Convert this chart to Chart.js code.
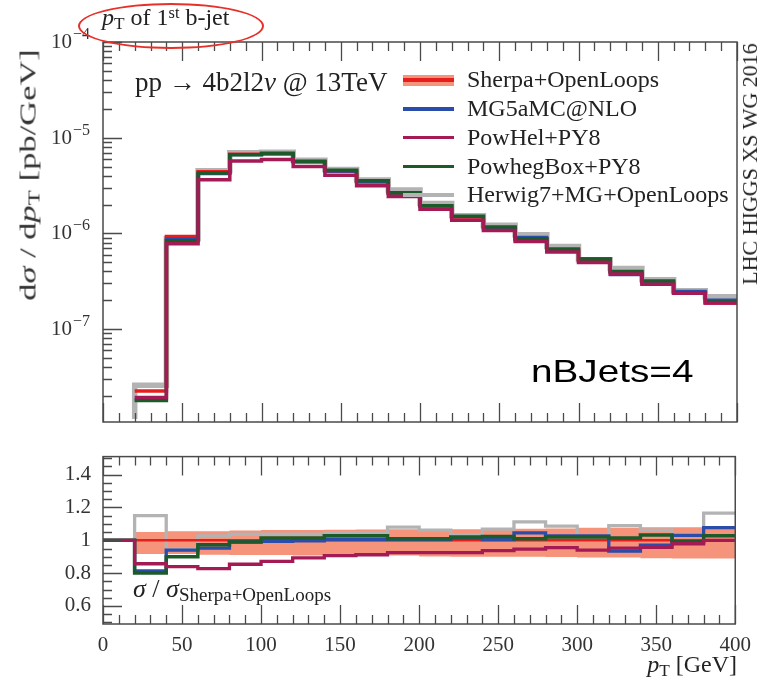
<!DOCTYPE html>
<html>
<head>
<meta charset="utf-8">
<script src="https://cdn.jsdelivr.net/npm/chart.js@4.4.1/dist/chart.umd.min.js"></script>
<style>
  body { margin: 0; background: #fff; width: 760px; height: 682px; position: relative; overflow: hidden;
         font-family: "Liberation Serif", serif; color: #222; }
  canvas { position: absolute; left: 0; }
  .t { position: absolute; white-space: nowrap; line-height: 1; }
  .t sub { font-size: 0.72em; vertical-align: -0.22em; line-height: 0; }
  .t sup { font-size: 0.68em; vertical-align: 0.45em; line-height: 0; }
  .smp { position: absolute; }
</style>
</head>
<body>
<canvas id="main" width="760" height="432" style="top:0"></canvas>
<canvas id="ratio" width="760" height="250" style="top:432px"></canvas>

<div class="t" style="left:102px;top:5px;font-size:24px"><i>p</i><sub>T</sub> of 1<sup>st</sup> b-jet</div>
<div style="position:absolute;left:78px;top:3px;width:182px;height:42px;border:2px solid #e8302a;border-radius:50%"></div>
<div class="t" style="left:135px;top:69px;font-size:27px">pp → 4b2l2<i>ν</i> @ 13TeV</div>
<div class="t" style="left:28px;top:175px;font-size:23px;color:#333;transform:translate(-50%,-50%) rotate(-90deg) scaleX(1.5)">d<i>σ</i> / d<i>p</i><sub>T</sub> [pb/GeV]</div>
<div class="t" style="left:750px;top:164px;font-size:22px;transform:translate(-50%,-50%) rotate(-90deg)">LHC HIGGS XS WG 2016</div>
<div class="t" style="left:531px;top:355px;font-size:32px;font-family:'Liberation Sans',sans-serif;color:#000;transform:scaleX(1.21);transform-origin:left top">nBJets=4</div>
<div class="t" style="left:133px;top:576px;font-size:26px"><i>σ</i> / <i>σ</i><sub style="font-size:19px">Sherpa+OpenLoops</sub></div>
<div class="t" style="right:23px;top:652px;font-size:24px"><i>p</i><sub>T</sub> [GeV]</div>
<div id="legend"></div>

<script>
// bin edges of the pT histogram (GeV); first bin 0-20 is empty
const binEdges = [0, 20, 40, 60, 80, 100, 120, 140, 160, 180, 200, 220, 240, 260, 280, 300, 320, 340, 360, 380, 400];

const seriesNames = ['Sherpa+OpenLoops', 'MG5aMC@NLO', 'PowHel+PY8', 'PowhegBox+PY8', 'Herwig7+MG+OpenLoops'];
const seriesColors = ['#e61e1e', '#2a4caa', '#a31a55', '#1c5a2a', '#b3b3b3'];

// dsigma/dpT [pb/GeV], one value per bin
const sherpaXS = [null, 2.25e-8, 9.3e-7, 4.4e-6, 6.7e-6, 6.8e-6, 5.6e-6, 4.45e-6, 3.45e-6, 2.63e-6, 1.93e-6, 1.48e-6, 1.14e-6, 8.7e-7, 6.7e-7, 5.3e-7, 3.95e-7, 3.08e-7, 2.42e-7, 1.87e-7];
const mg5XS    = [null, 1.83e-8, 8.74e-7, 4.19e-6, 6.63e-6, 6.75e-6, 5.58e-6, 4.47e-6, 3.47e-6, 2.64e-6, 1.94e-6, 1.50e-6, 1.15e-6, 9.09e-7, 6.88e-7, 5.44e-7, 3.69e-7, 2.99e-7, 2.49e-7, 2.01e-7];
const powhelXS = [null, 1.93e-8, 7.81e-7, 3.64e-6, 5.72e-6, 5.92e-6, 5.00e-6, 4.04e-6, 3.15e-6, 2.43e-6, 1.79e-6, 1.37e-6, 1.07e-6, 8.23e-7, 6.40e-7, 4.98e-7, 3.76e-7, 2.95e-7, 2.37e-7, 1.87e-7];
const powhegXS = [null, 1.80e-8, 8.37e-7, 4.28e-6, 6.63e-6, 6.90e-6, 5.68e-6, 4.57e-6, 3.54e-6, 2.66e-6, 1.95e-6, 1.51e-6, 1.17e-6, 8.78e-7, 6.83e-7, 5.41e-7, 4.01e-7, 3.18e-7, 2.40e-7, 1.92e-7];
const herwigXS = [0, 2.59e-8, 8.80e-7, 4.52e-6, 6.95e-6, 7.05e-6, 5.81e-6, 4.65e-6, 3.61e-6, 2.84e-6, 2.05e-6, 1.53e-6, 1.22e-6, 9.67e-7, 7.28e-7, 5.30e-7, 4.30e-7, 3.27e-7, 2.51e-7, 2.18e-7];

// ratio to Sherpa+OpenLoops
const sherpaRatio = [1, 1, 1, 1, 1, 1, 1, 1, 1, 1, 1, 1, 1, 1, 1, 1, 1, 1, 1, 1];
const mg5Ratio    = [1, 0.814, 0.94, 0.952, 0.99, 0.993, 0.996, 1.005, 1.005, 1.005, 1.005, 1.012, 1.005, 1.045, 1.027, 1.027, 0.934, 0.97, 1.03, 1.077];
const powhelRatio = [1, 0.857, 0.84, 0.827, 0.854, 0.871, 0.893, 0.907, 0.912, 0.925, 0.925, 0.925, 0.937, 0.946, 0.955, 0.94, 0.952, 0.957, 0.979, 1.0];
const powhegRatio = [1, 0.80, 0.90, 0.973, 0.99, 1.014, 1.014, 1.027, 1.027, 1.01, 1.009, 1.02, 1.023, 1.009, 1.02, 1.02, 1.014, 1.032, 0.991, 1.027];
const herwigRatio = [1, 1.15, 0.946, 1.027, 1.037, 1.037, 1.037, 1.046, 1.046, 1.08, 1.062, 1.032, 1.068, 1.112, 1.086, 1.0, 1.089, 1.062, 1.036, 1.166];
// Sherpa uncertainty band
const bandUp   = [null, 1.05, 1.055, 1.055, 1.06, 1.062, 1.063, 1.065, 1.066, 1.068, 1.068, 1.068, 1.07, 1.07, 1.072, 1.077, 1.077, 1.08, 1.08, 1.08];
const bandDown = [null, 0.916, 0.916, 0.912, 0.91, 0.91, 0.908, 0.907, 0.907, 0.907, 0.902, 0.9, 0.9, 0.9, 0.898, 0.895, 0.895, 0.89, 0.889, 0.889];

// tick labels
const logTickExps = [-4, -5, -6, -7];
const xTickValues = [0, 50, 100, 150, 200, 250, 300, 350, 400];
const xTickLabels = ['0', '50', '100', '150', '200', '250', '300', '350', '400'];
const ratioTickValues = [0.6, 0.8, 1, 1.2, 1.4];
const ratioTickLabels = ['0.6', '0.8', '1', '1.2', '1.4'];

const bandColor = '#f6937b';
const axisColor = '#4a4a4a';
const serif = 'Liberation Serif';
const yMin = 1.07e-8, yMax = 1e-4;

// histogram as step points; an empty (zero) bin sits on the axis floor of the log plot
function steps(vals, floor) {
  const pts = vals.map((v, i) => ({ x: binEdges[i], y: (v === 0 && floor) ? floor : v }));
  pts.push({ x: binEdges[binEdges.length - 1], y: vals[vals.length - 1] });
  return pts;
}

function line(data, color, width, order, extra, floor) {
  return Object.assign({
    data: steps(data, floor), borderColor: color, borderWidth: width, stepped: 'before',
    pointRadius: 0, fill: false, order: order, borderJoinStyle: 'miter', borderCapStyle: 'butt'
  }, extra || {});
}

// inward ticks + frame, like the rivet plots
const frameTicks = {
  id: 'frameTicks',
  afterDatasetsDraw(chart, args, o) {
    const { ctx, chartArea: a } = chart;
    const xs = chart.scales.x, ys = chart.scales.y;
    ctx.save();
    ctx.strokeStyle = axisColor;
    ctx.lineWidth = 1.3;
    ctx.beginPath();
    for (let v = 0; v <= 400; v += 10) {
      const px = Math.round(xs.getPixelForValue(v)) + 0.5;
      const len = v % 50 === 0 ? 19 : 9;
      ctx.moveTo(px, a.bottom); ctx.lineTo(px, a.bottom - len);
      ctx.moveTo(px, a.top); ctx.lineTo(px, a.top + len);
    }
    o.yTicks.forEach(t => {
      const py = Math.round(ys.getPixelForValue(t.v)) + 0.5;
      ctx.moveTo(a.left, py); ctx.lineTo(a.left + (t.major ? 19 : 9), py);
    });
    ctx.stroke();
    ctx.lineWidth = 1.5;
    ctx.strokeRect(a.left, a.top, a.width, a.height);
    ctx.restore();
  },
  afterDraw(chart, args, o) {
    if (!o.decades) return;
    const { ctx, chartArea: a } = chart;
    const ys = chart.scales.y;
    ctx.save();
    ctx.fillStyle = '#333';
    ctx.textAlign = 'left';
    ctx.textBaseline = 'alphabetic';
    o.decades.forEach(n => {
      const py = ys.getPixelForValue(Math.pow(10, n));
      const exp = '\u2212' + (-n);
      ctx.font = '16px "' + serif + '"';
      const we = ctx.measureText(exp).width;
      ctx.font = '21px "' + serif + '"';
      const wb = ctx.measureText('10').width;
      const x0 = a.left - 13 - we - wb - 1;
      ctx.fillText('10', x0, py + 6);
      ctx.font = '16px "' + serif + '"';
      ctx.fillText(exp, x0 + wb + 1, py - 3);
    });
    ctx.restore();
  }
};

const logTicks = [];
for (let n = -8; n <= -5; n++) {
  for (let k = 1; k <= 9; k++) {
    const v = k * Math.pow(10, n);
    if (v >= yMin) logTicks.push({ v: v, major: k === 1 });
  }
}
logTicks.push({ v: 1e-4, major: true });

const ratioTicks = [];
for (let i = 10; i <= 30; i++) ratioTicks.push({ v: i * 0.05, major: i % 4 === 0 });

Chart.defaults.font.family = serif;
Chart.defaults.color = '#333';

new Chart(document.getElementById('main'), {
  type: 'line',
  data: {
    datasets: [
      line(herwigXS, seriesColors[4], 5.5, 5, { clip: { left: 3, top: 3, right: 3, bottom: -3 } }, yMin),
      line(sherpaXS, seriesColors[0], 3.5, 4),
      line(mg5XS, seriesColors[1], 3, 3),
      line(powhegXS, seriesColors[3], 3.5, 2),
      line(powhelXS, seriesColors[2], 3.5, 1)
    ]
  },
  options: {
    responsive: false, animation: false, devicePixelRatio: 1, events: [],
    layout: { padding: { top: 42, right: 23, bottom: 10, left: 0 } },
    plugins: { legend: { display: false }, tooltip: { enabled: false },
               frameTicks: { yTicks: logTicks, decades: logTickExps } },
    scales: {
      x: { type: 'linear', min: 0, max: 400, display: false },
      y: { type: 'logarithmic', min: yMin, max: yMax,
           grid: { display: false, drawTicks: false }, border: { display: false },
           ticks: { display: false },
           afterFit: s => { s.width = 103; } }
    }
  },
  plugins: [frameTicks]
});

new Chart(document.getElementById('ratio'), {
  type: 'line',
  data: {
    datasets: [
      line(bandUp, 'rgba(0,0,0,0)', 0, 10, { fill: '+1', backgroundColor: bandColor }),
      line(bandDown, 'rgba(0,0,0,0)', 0, 11),
      line(herwigRatio, seriesColors[4], 3.3, 5),
      line(sherpaRatio, seriesColors[0], 2.5, 4),
      line(mg5Ratio, seriesColors[1], 3.3, 3),
      line(powhegRatio, seriesColors[3], 3.5, 2),
      line(powhelRatio, seriesColors[2], 3.3, 1)
    ]
  },
  options: {
    responsive: false, animation: false, devicePixelRatio: 1, events: [],
    layout: { padding: { top: 4, right: 23, bottom: 0, left: 0 } },
    plugins: { legend: { display: false }, tooltip: { enabled: false },
               frameTicks: { yTicks: ratioTicks } },
    scales: {
      x: { type: 'linear', min: 0, max: 400,
           grid: { display: false, drawTicks: false }, border: { display: false },
           afterBuildTicks: s => { s.ticks = xTickValues.map(v => ({ value: v })); },
           ticks: { autoSkip: false, maxRotation: 0, padding: 9, font: { size: 21 },
                    callback: (v, i) => xTickLabels[i] },
           afterFit: s => { s.height = 58; } },
      y: { type: 'linear', min: 0.49, max: 1.51,
           grid: { display: false, drawTicks: false }, border: { display: false },
           afterBuildTicks: s => { s.ticks = ratioTickValues.map(v => ({ value: v })); },
           ticks: { autoSkip: false, padding: 12, font: { size: 21 },
                    callback: (v, i) => ratioTickLabels[i] },
           afterFit: s => { s.width = 103; } }
    }
  },
  plugins: [frameTicks]
});

// legend
const legend = document.getElementById('legend');
seriesNames.forEach((name, i) => {
  const cy = 80 + i * 28.8;
  if (i === 0) {
    const b = document.createElement('div');
    b.className = 'smp';
    b.style.cssText = `left:403px;width:51px;top:${cy - 5.5}px;height:11px;background:${bandColor}`;
    legend.appendChild(b);
  }
  const w = i === 0 ? 4.5 : (i === 4 ? 4 : 3.5);
  const s = document.createElement('div');
  s.className = 'smp';
  s.style.cssText = `left:403px;width:51px;top:${cy - w / 2}px;height:${w}px;background:${seriesColors[i]}`;
  legend.appendChild(s);
  const t = document.createElement('div');
  t.className = 't';
  t.style.cssText = `left:467px;top:${cy + 7.3 - 20.1}px;font-size:24px`;
  t.textContent = name;
  legend.appendChild(t);
});
</script>
</body>
</html>
